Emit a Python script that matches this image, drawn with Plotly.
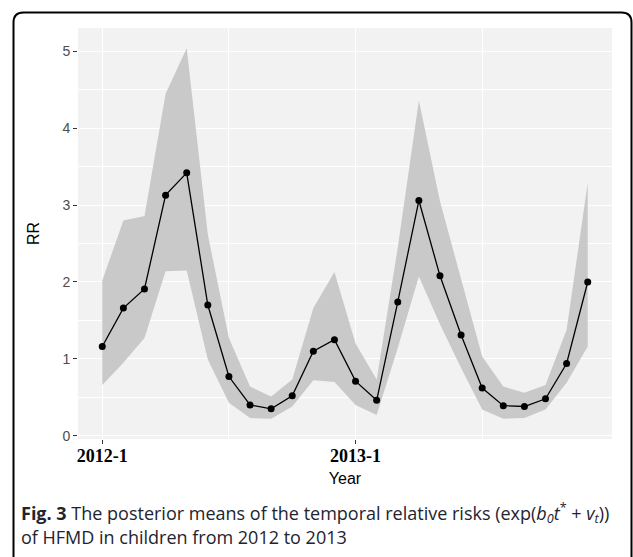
import plotly.graph_objects as go

# ---- data ----
months = list(range(24))  # 2012-1 ... 2013-12
rr_mean = [1.16, 1.66, 1.91, 3.13, 3.42, 1.70, 0.77, 0.40, 0.35, 0.52, 1.10, 1.25,
           0.71, 0.46, 1.74, 3.06, 2.08, 1.31, 0.62, 0.39, 0.38, 0.48, 0.94, 2.00]
rr_upper = [2.02, 2.80, 2.86, 4.45, 5.04, 2.62, 1.27, 0.64, 0.51, 0.73, 1.66, 2.13,
            1.20, 0.73, 2.45, 4.36, 3.05, 2.05, 1.03, 0.64, 0.56, 0.66, 1.38, 3.29]
rr_lower = [0.66, 0.95, 1.27, 2.14, 2.15, 0.99, 0.43, 0.23, 0.22, 0.38, 0.72, 0.70,
            0.40, 0.27, 1.14, 2.07, 1.45, 0.88, 0.34, 0.22, 0.23, 0.34, 0.69, 1.16]
x_tickvals = [0, 12]
x_ticktext = ["2012-1", "2013-1"]
y_tickvals = [0, 1, 2, 3, 4, 5]

W, H = 633, 557
ML, MR, MT, MB = 78, 21, 28, 118
PW, PH = W - ML - MR, H - MT - MB


def px_x(px):
    return (px - ML) / PW


def px_y(py):
    return 1 - (py - MT) / PH


fig = go.Figure()
fig.add_trace(go.Scatter(x=months, y=rr_upper, mode="lines", line=dict(width=0),
                         showlegend=False, hoverinfo="skip"))
fig.add_trace(go.Scatter(x=months, y=rr_lower, mode="lines", line=dict(width=0),
                         fill="tonexty", fillcolor="#c9c9c9",
                         showlegend=False, hoverinfo="skip"))
fig.add_trace(go.Scatter(x=months, y=rr_mean, mode="lines+markers",
                         line=dict(color="black", width=1.3),
                         marker=dict(color="black", size=7),
                         showlegend=False))

fig.update_layout(
    width=W, height=H,
    margin=dict(l=ML, r=MR, t=MT, b=MB),
    paper_bgcolor="white",
    plot_bgcolor="#f2f2f2",
    font=dict(family="Liberation Sans, Arial, sans-serif", size=14, color="black"),
    xaxis=dict(
        range=[-1.15, 24.15],
        tickmode="array", tickvals=x_tickvals, ticktext=x_ticktext,
        tickfont=dict(family="Liberation Serif, Times New Roman, serif", size=18,
                      color="black", weight="bold"),
        ticks="outside", ticklen=4, tickcolor="#333333", tickwidth=1,
        ticklabelstandoff=-4,
        showgrid=True, gridcolor="white", gridwidth=1.2,
        minor=dict(tickmode="array", tickvals=[6, 18], showgrid=True,
                   gridcolor="white", gridwidth=1.2, ticks=""),
        zeroline=False, showline=False,
        title=dict(text="Year", font=dict(size=16, color="black"), standoff=8),
    ),
    yaxis=dict(
        range=[-0.043, 5.305],
        tickmode="array", tickvals=y_tickvals,
        tickfont=dict(size=14, color="#4d4d4d"),
        ticks="outside", ticklen=4, tickcolor="#333333", tickwidth=1,
        showgrid=True, gridcolor="white", gridwidth=1.2,
        minor=dict(dtick=0.5, tick0=0, showgrid=True, gridcolor="white",
                   gridwidth=0.8, ticks=""),
        zeroline=False, showline=False,
        title=dict(text="RR", font=dict(size=16, color="black"), standoff=18),
    ),
)

# rounded frame
x0, x1, y0, y1, r = 13.5, 631.5, 12.5, 560, 10
path = (f"M {px_x(x0)},{px_y(y1)} L {px_x(x0)},{px_y(y0 + r)} "
        f"Q {px_x(x0)},{px_y(y0)} {px_x(x0 + r)},{px_y(y0)} "
        f"L {px_x(x1 - r)},{px_y(y0)} "
        f"Q {px_x(x1)},{px_y(y0)} {px_x(x1)},{px_y(y0 + r)} "
        f"L {px_x(x1)},{px_y(y1)}")
fig.add_shape(type="path", path=path, xref="paper", yref="paper",
              line=dict(color="black", width=2))

cap_font = dict(family="Open Sans, Noto Sans, sans-serif", size=18, color="#1e2430")
fig.add_annotation(
    xref="paper", yref="paper", x=px_x(19), y=px_y(513),
    xanchor="left", yanchor="middle", showarrow=False, font=cap_font,
    text="<b>Fig. 3</b> The posterior means of the temporal relative risks "
         "(exp(<i>b</i><sub><i>0</i></sub><i>t</i><sup>*</sup> + <i>v</i><sub><i>t</i></sub>))",
)
fig.add_annotation(
    xref="paper", yref="paper", x=px_x(19), y=px_y(537),
    xanchor="left", yanchor="middle", showarrow=False, font=cap_font,
    text="of HFMD in children from 2012 to 2013",
)

fig.write_html("out.html", config={"displayModeBar": False},
               post_script="document.body.style.margin='0';document.body.style.overflow='hidden';")
